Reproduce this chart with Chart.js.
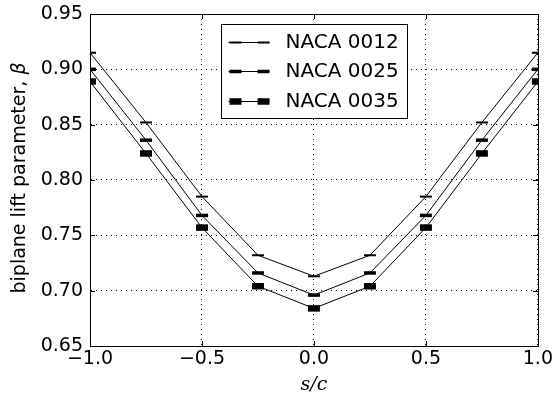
<!DOCTYPE html>
<html>
<head>
<meta charset="utf-8">
<script src="https://cdn.jsdelivr.net/npm/chart.js@4"></script>
<style>
  html, body { margin: 0; padding: 0; background: #fff; }
</style>
</head>
<body>
<canvas id="chart" width="555" height="396"></canvas>
<script>
// gap ratio s/c and the measured lift parameter for each section
const spacing = [-1.0, -0.75, -0.5, -0.25, 0.0, 0.25, 0.5, 0.75, 1.0];
const naca0012 = [0.915, 0.852, 0.785, 0.732, 0.713, 0.732, 0.785, 0.852, 0.915];
const naca0025 = [0.900, 0.836, 0.768, 0.716, 0.696, 0.716, 0.768, 0.836, 0.900];
const naca0035 = [0.889, 0.824, 0.757, 0.704, 0.684, 0.704, 0.757, 0.824, 0.889];
const seriesNames = ['NACA 0012', 'NACA 0025', 'NACA 0035'];
const xTicks = [-1.0, -0.5, 0.0, 0.5, 1.0];
const yTicks = [0.65, 0.70, 0.75, 0.80, 0.85, 0.90, 0.95];

const markerWidths = [2, 3.5, 6.5];
const tickFont = { family: 'DejaVu Sans', size: 19 };

const toPoints = (vals) => vals.map((v, i) => ({ x: spacing[i], y: v }));

const datasets = [naca0012, naca0025, naca0035].map((vals, i) => ({
  label: seriesNames[i],
  data: toPoints(vals),
  borderColor: '#000',
  borderWidth: 1,
  pointStyle: 'line',
  pointRadius: 6,
  pointHoverRadius: 6,
  pointBorderWidth: markerWidths[i],
  pointBorderColor: '#000',
  pointBackgroundColor: '#000',
  tension: 0,
  fill: false
}));

// box around the plot plus small inward tick marks on every side
const frame = {
  id: 'frame',
  afterDraw(chart) {
    const { ctx, chartArea: a, scales } = chart;
    ctx.save();
    ctx.strokeStyle = '#000';
    ctx.lineWidth = 1;
    ctx.beginPath();
    xTicks.forEach((t) => {
      const px = Math.round(scales.x.getPixelForValue(t)) + 0.5;
      ctx.moveTo(px, a.bottom); ctx.lineTo(px, a.bottom - 5);
      ctx.moveTo(px, a.top); ctx.lineTo(px, a.top + 5);
    });
    yTicks.forEach((t) => {
      const py = Math.round(scales.y.getPixelForValue(t)) + 0.5;
      ctx.moveTo(a.left, py); ctx.lineTo(a.left + 5, py);
      ctx.moveTo(a.right, py); ctx.lineTo(a.right - 5, py);
    });
    ctx.stroke();
    ctx.strokeRect(Math.round(a.left) + 0.5, Math.round(a.top) + 0.5,
      Math.round(a.right - a.left), Math.round(a.bottom - a.top));
    ctx.restore();
  }
};

// y axis label, with the beta set in italic like a math symbol
const yLabel = {
  id: 'yLabel',
  afterDraw(chart) {
    const { ctx, chartArea: a } = chart;
    const plain = 'biplane lift parameter, ';
    const sym = '\u03b2';
    ctx.save();
    ctx.fillStyle = '#000';
    ctx.textBaseline = 'middle';
    ctx.textAlign = 'left';
    ctx.font = '19px "DejaVu Sans"';
    const w1 = ctx.measureText(plain).width;
    ctx.font = 'italic 19px "DejaVu Sans"';
    const w2 = ctx.measureText(sym).width;
    ctx.translate(20, (a.top + a.bottom) / 2 - 2);
    ctx.rotate(-Math.PI / 2);
    const start = -(w1 + w2) / 2;
    ctx.font = '19px "DejaVu Sans"';
    ctx.fillText(plain, start, 0);
    ctx.font = 'italic 19px "DejaVu Sans"';
    ctx.fillText(sym, start + w1, 0);
    ctx.restore();
  }
};

// legend drawn the way the plotting tool did it: a line sample with a marker at each end
const boxLegend = {
  id: 'boxLegend',
  afterDraw(chart) {
    const { ctx, chartArea: a } = chart;
    const w = 186, h = 94;
    const left = Math.round((a.left + a.right) / 2 - w / 2) + 0.5;
    const top = Math.round(a.top + 10) + 0.5;
    ctx.save();
    ctx.fillStyle = '#fff';
    ctx.fillRect(left, top, w, h);
    ctx.strokeStyle = '#000';
    ctx.lineWidth = 1;
    ctx.strokeRect(left, top, w, h);
    ctx.font = '20px "DejaVu Sans"';
    ctx.textBaseline = 'middle';
    ctx.fillStyle = '#000';
    chart.data.datasets.forEach((ds, i) => {
      const y = Math.round(top + 17 + i * 29.5);
      ctx.lineWidth = 1;
      ctx.beginPath();
      ctx.moveTo(left + 7, y + 0.5);
      ctx.lineTo(left + 48, y + 0.5);
      ctx.stroke();
      ctx.lineWidth = markerWidths[i];
      [left + 14, left + 42].forEach((cx) => {
        ctx.beginPath();
        ctx.moveTo(cx - 6, y + 0.5);
        ctx.lineTo(cx + 6, y + 0.5);
        ctx.stroke();
      });
      ctx.fillText(ds.label, left + 64, y + 1);
    });
    ctx.restore();
  }
};

new Chart(document.getElementById('chart'), {
  type: 'line',
  data: { datasets },
  options: {
    responsive: false,
    animation: false,
    devicePixelRatio: 1,
    layout: { padding: { left: 0, right: 17, top: 14, bottom: 0 } },
    plugins: {
      legend: { display: false },
      tooltip: { enabled: false }
    },
    scales: {
      x: {
        type: 'linear',
        min: -1,
        max: 1,
        afterBuildTicks: (scale) => { scale.ticks = xTicks.map((v) => ({ value: v })); },
        afterFit: (scale) => { scale.height = 50; },
        ticks: {
          color: '#000',
          font: tickFont,
          padding: 2,
          maxRotation: 0,
          callback: (v) => v.toFixed(1).replace('-', '\u2212')
        },
        grid: { color: '#000', lineWidth: 1, drawTicks: false },
        border: { display: true, color: '#000', width: 1, dash: [1, 4] },
        title: {
          display: true,
          text: 's/c',
          color: '#000',
          font: { family: 'DejaVu Serif', size: 19, style: 'italic' },
          padding: { top: 0, bottom: 0 }
        }
      },
      y: {
        min: 0.65,
        max: 0.95,
        afterBuildTicks: (scale) => { scale.ticks = yTicks.map((v) => ({ value: v })); },
        afterFit: (scale) => {
          scale.width = 90;
          scale.paddingTop = 0;
          scale.paddingBottom = 0;
        },
        ticks: {
          color: '#000',
          font: tickFont,
          padding: 7,
          callback: (v) => v.toFixed(2)
        },
        grid: { color: '#000', lineWidth: 1, drawTicks: false },
        border: { display: true, color: '#000', width: 1, dash: [1, 4] }
      }
    }
  },
  plugins: [frame, yLabel, boxLegend]
});
</script>
</body>
</html>
